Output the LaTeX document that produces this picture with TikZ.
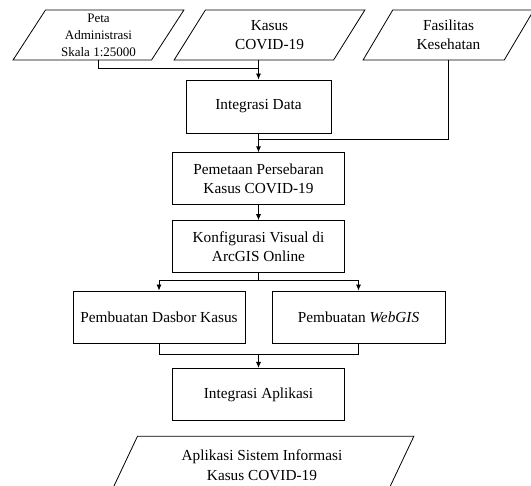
\documentclass[tikz,border=0pt]{standalone}
\usepackage{fontspec}
\setmainfont{Liberation Serif}
\usetikzlibrary{shapes.geometric, positioning, arrows.meta}

\begin{document}
\begin{tikzpicture}[
    x=1pt, y=1pt,
    box/.style={draw, line width=0.8pt, rectangle, align=center, minimum width=172pt, minimum height=52pt, font=\fontsize{15.3}{19.5}\selectfont},
    data/.style={draw, line width=0.8pt, trapezium, trapezium left angle=64, trapezium right angle=116, trapezium stretches=true, align=center, minimum height=50pt, inner xsep=2pt, font=\fontsize{15.3}{19.5}\selectfont},
    line/.style={line width=0.8pt},
    arrow/.style={->, >={Latex[length=6pt, width=5pt]}, line width=0.8pt}
]
    \useasboundingbox (0,0) rectangle (531,-486);

    \node (peta) [data, minimum width=171pt, font=\fontsize{13}{17}\selectfont] at (98.5,-35) {Peta\\Administrasi\\Skala 1:25000};
    \node (kasus) [data, minimum width=191pt] at (269.5,-35) {Kasus\\COVID-19};
    \node (faskes) [data, minimum width=171pt] at (448.5,-35) {Fasilitas\\Kesehatan};
    \node (integrasi) [box, minimum width=145pt, minimum height=53pt] at (258.5,-106.5) {Integrasi Data};
    \node (pemetaan) [box, below=19pt of integrasi] {Pemetaan Persebaran\\Kasus COVID-19};
    \node (konfigurasi) [box, below=15pt of pemetaan] {Konfigurasi Visual di\\ArcGIS Online};
    \node (dasbor) [box] at (159,-317) {Pembuatan Dasbor Kasus};
    \node (webgis) [box, minimum width=173pt] at (358.5,-317) {Pembuatan \textit{WebGIS}};
    \node (aplikasi) [box, below=95pt of konfigurasi] {Integrasi Aplikasi};
    \node (sistem) [data, minimum width=304pt, minimum height=58pt, below=15pt of aplikasi, xshift=3.5pt] {Aplikasi Sistem Informasi\\Kasus COVID-19};

    \coordinate [above=11pt of integrasi] (gabung1);
    \coordinate [below=6pt of integrasi] (gabung2);
    \coordinate [below=7pt of konfigurasi] (cabang);
    \coordinate [above=14pt of aplikasi] (gabung3);

    \draw [line] (peta.south) |- (gabung1);
    \draw [arrow] (kasus.south -| integrasi.north) -- (integrasi.north);
    \draw [line] (faskes.south) |- (gabung2);
    \draw [arrow] (integrasi) -- (pemetaan);
    \draw [arrow] (pemetaan) -- (konfigurasi);
    \draw [line] (konfigurasi) -- (cabang);
    \draw [arrow] (cabang) -| (dasbor);
    \draw [arrow] (cabang) -| (webgis);
    \draw [line] (dasbor) |- (gabung3);
    \draw [line] (webgis) |- (gabung3);
    \draw [arrow] (gabung3) -- (aplikasi);
\end{tikzpicture}
\end{document}
